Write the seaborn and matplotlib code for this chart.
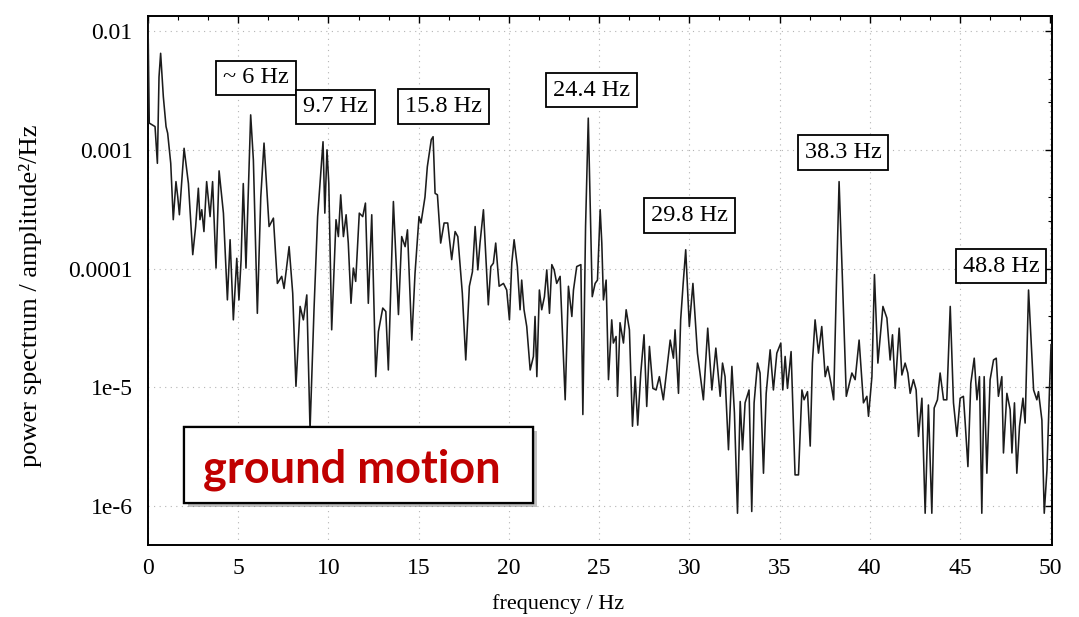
import matplotlib
matplotlib.use("Agg")
import matplotlib.pyplot as plt
import matplotlib.ticker as mticker
import matplotlib.patheffects as pe
from matplotlib.patches import Rectangle
import pandas as pd
import seaborn as sns

# Power spectrum of the ground motion (frequency in Hz, power in amplitude^2/Hz)
freq_hz = [
    0.00, 0.07, 0.39, 0.52, 0.61, 0.70, 0.85, 1.00, 1.09, 1.26,
    1.40, 1.55, 1.65, 1.74, 2.00, 2.24, 2.48, 2.64, 2.79, 2.88,
    2.98, 3.10, 3.25, 3.44, 3.58, 3.77, 3.94, 4.18, 4.40, 4.55,
    4.73, 4.92, 5.04, 5.16, 5.28, 5.43, 5.69, 5.84, 6.06, 6.25,
    6.43, 6.71, 6.95, 7.17, 7.41, 7.54, 7.82, 8.02, 8.20, 8.43,
    8.61, 8.80, 8.98, 9.20, 9.40, 9.70, 9.80, 9.92, 10.02, 10.18,
    10.42, 10.55, 10.68, 10.83, 10.98, 11.10, 11.25, 11.38, 11.51, 11.71,
    11.90, 12.05, 12.21, 12.40, 12.62, 12.77, 13.01, 13.18, 13.32, 13.60,
    13.88, 14.06, 14.25, 14.38, 14.62, 14.80, 15.02, 15.13, 15.35, 15.48,
    15.70, 15.80, 15.91, 16.04, 16.22, 16.41, 16.61, 16.83, 17.02, 17.17,
    17.42, 17.61, 17.81, 17.98, 18.13, 18.28, 18.40, 18.59, 18.86, 19.00,
    19.14, 19.27, 19.46, 19.70, 19.88, 20.03, 20.16, 20.29, 20.47, 20.62,
    20.71, 20.84, 20.99, 21.18, 21.36, 21.45, 21.55, 21.69, 21.82, 21.97,
    22.10, 22.25, 22.38, 22.51, 22.65, 22.84, 23.12, 23.30, 23.49, 23.58,
    23.76, 23.99, 24.10, 24.25, 24.40, 24.50, 24.62, 24.78, 24.91, 25.06,
    25.15, 25.24, 25.39, 25.52, 25.70, 25.79, 25.94, 26.02, 26.16, 26.35,
    26.50, 26.68, 26.85, 27.00, 27.14, 27.31, 27.49, 27.64, 27.79, 27.98,
    28.16, 28.34, 28.56, 28.75, 28.94, 29.12, 29.21, 29.40, 29.52, 29.66,
    29.80, 30.00, 30.20, 30.45, 30.78, 31.02, 31.25, 31.47, 31.71, 31.84,
    31.98, 32.17, 32.36, 32.50, 32.67, 32.82, 32.95, 33.09, 33.31, 33.46,
    33.59, 33.78, 33.92, 34.11, 34.26, 34.48, 34.66, 34.85, 35.07, 35.18,
    35.31, 35.44, 35.64, 35.86, 36.05, 36.24, 36.36, 36.55, 36.70, 36.82,
    36.97, 37.16, 37.34, 37.53, 37.67, 37.85, 38.00, 38.15, 38.30, 38.48,
    38.70, 39.01, 39.19, 39.41, 39.65, 39.84, 39.93, 40.12, 40.26, 40.45,
    40.73, 40.95, 41.13, 41.26, 41.41, 41.63, 41.78, 41.96, 42.11, 42.24,
    42.42, 42.57, 42.70, 42.89, 43.07, 43.25, 43.44, 43.57, 43.75, 43.90,
    44.09, 44.27, 44.46, 44.64, 44.83, 45.01, 45.19, 45.29, 45.44, 45.60,
    45.79, 45.94, 46.08, 46.21, 46.34, 46.49, 46.67, 46.86, 47.01, 47.13,
    47.32, 47.41, 47.60, 47.78, 47.88, 48.02, 48.15, 48.30, 48.49, 48.61,
    48.80, 49.08, 49.26, 49.35, 49.54, 49.67, 49.82, 49.96, 50.05,
]

power = [
    1.2e-2, 1.68e-3, 1.57e-3, 7.7e-4, 4.1e-3, 6.5e-3, 2.8e-3, 1.57e-3, 1.38e-3, 7.7e-4,
    2.58e-4, 5.4e-4, 4.0e-4, 2.84e-4, 1.03e-3, 5.2e-4, 1.31e-4, 2.26e-4, 4.75e-4, 2.58e-4,
    3.13e-4, 2.05e-4, 5.4e-4, 2.74e-4, 5.4e-4, 1.01e-4, 6.65e-4, 2.93e-4, 5.45e-5, 1.75e-4,
    3.7e-5, 1.22e-4, 5.45e-5, 1.19e-4, 5.2e-4, 1.01e-4, 1.97e-3, 8.2e-4, 4.2e-5, 4.0e-4,
    1.14e-3, 2.26e-4, 2.66e-4, 7.5e-5, 8.6e-5, 6.8e-5, 1.53e-4, 6.2e-5, 1.02e-5, 4.8e-5,
    3.7e-5, 6.0e-5, 4.4e-6, 4.5e-5, 2.74e-4, 1.17e-3, 2.93e-4, 1.0e-3, 5.2e-4, 3.05e-5,
    2.58e-4, 1.86e-4, 4.18e-4, 1.86e-4, 2.84e-4, 1.64e-4, 5.1e-5, 1.01e-4, 7.8e-5, 2.93e-4,
    2.74e-4, 3.56e-4, 5.1e-5, 2.84e-4, 1.23e-5, 2.95e-5, 4.65e-5, 4.35e-5, 1.4e-5, 3.67e-4,
    4.1e-5, 1.86e-4, 1.53e-4, 2.12e-4, 2.5e-5, 9.2e-5, 2.74e-4, 2.42e-4, 4.0e-4, 7.2e-4,
    1.22e-3, 1.29e-3, 4.3e-4, 4.18e-4, 1.64e-4, 2.42e-4, 2.42e-4, 1.19e-4, 2.05e-4, 1.86e-4,
    6.2e-5, 1.7e-5, 7.1e-5, 9.4e-5, 2.26e-4, 9.75e-5, 1.64e-4, 3.13e-4, 4.95e-5, 1.04e-4,
    1.11e-4, 1.64e-4, 7.1e-5, 7.5e-5, 6.6e-5, 3.7e-5, 1.11e-4, 1.75e-4, 1.04e-4, 4.5e-5,
    8.0e-5, 4.5e-5, 3.25e-5, 1.4e-5, 1.82e-5, 3.95e-5, 1.23e-5, 6.6e-5, 4.5e-5, 5.8e-5,
    9.75e-5, 4.2e-5, 1.08e-4, 9.75e-5, 7.5e-5, 8.6e-5, 7.85e-6, 7.1e-5, 3.95e-5, 6.6e-5,
    1.04e-4, 1.08e-4, 5.9e-6, 2.26e-4, 1.85e-3, 4.0e-4, 5.8e-5, 7.5e-5, 8.0e-5, 3.13e-4,
    1.64e-4, 5.45e-5, 8.0e-5, 1.16e-5, 3.7e-5, 2.36e-5, 2.68e-5, 8.4e-6, 3.5e-5, 2.36e-5,
    4.5e-5, 3.05e-5, 4.7e-6, 1.23e-5, 4.8e-6, 1.32e-5, 2.77e-5, 6.9e-6, 2.21e-5, 9.8e-6,
    9.5e-6, 1.23e-5, 7.85e-6, 1.4e-5, 2.5e-5, 1.76e-5, 3.05e-5, 8.9e-6, 3.7e-5, 7.5e-5,
    1.44e-4, 3.25e-5, 7.5e-5, 1.94e-5, 7.85e-6, 3.15e-5, 9.5e-6, 2.14e-5, 8.4e-6, 1.6e-5,
    1.23e-5, 2.98e-6, 1.5e-5, 6.1e-6, 8.7e-7, 7.6e-6, 2.98e-6, 7.4e-6, 9.5e-6, 9.0e-7,
    7.4e-6, 1.6e-5, 1.32e-5, 1.89e-6, 8.9e-6, 2.07e-5, 9.5e-6, 1.94e-5, 2.36e-5, 9.5e-6,
    1.82e-5, 9.8e-6, 2.0e-5, 1.83e-6, 1.83e-6, 9.5e-6, 7.85e-6, 9.2e-6, 3.2e-6, 1.6e-5,
    3.7e-5, 1.94e-5, 3.25e-5, 1.23e-5, 1.5e-5, 1.08e-5, 7.85e-6, 7.1e-5, 5.4e-4, 8.6e-5,
    8.4e-6, 1.32e-5, 1.16e-5, 2.5e-5, 7.4e-6, 8.4e-6, 5.7e-6, 1.23e-5, 8.9e-5, 1.6e-5,
    4.8e-5, 3.83e-5, 1.7e-5, 2.77e-5, 9.8e-6, 3.15e-5, 1.27e-5, 1.6e-5, 1.32e-5, 8.9e-6,
    1.16e-5, 9.5e-6, 3.86e-6, 8.1e-6, 8.7e-7, 7.1e-6, 8.7e-7, 6.7e-6, 7.85e-6, 1.32e-5,
    7.85e-6, 7.85e-6, 4.8e-5, 7.4e-6, 3.86e-6, 8.1e-6, 8.4e-6, 5.0e-6, 2.15e-6, 1.08e-5,
    1.76e-5, 7.85e-6, 1.23e-5, 8.7e-7, 1.23e-5, 1.89e-6, 1.16e-5, 1.7e-5, 1.76e-5, 8.4e-6,
    1.23e-5, 2.8e-6, 8.9e-6, 6.5e-6, 2.8e-6, 7.4e-6, 1.89e-6, 4.7e-6, 8.1e-6, 5.0e-6,
    6.6e-5, 9.5e-6, 7.85e-6, 9.2e-6, 5.3e-6, 8.7e-7, 2.0e-6, 9.5e-6, 2.3e-5,
]

# Peak annotations
peak_labels = ["~ 6 Hz", "9.7 Hz", "15.8 Hz", "24.4 Hz", "29.8 Hz", "38.3 Hz", "48.8 Hz"]
label_x = [5.99, 10.39, 16.38, 24.57, 30.02, 38.53, 47.29]
label_y = [4.04e-3, 2.30e-3, 2.32e-3, 3.19e-3, 2.81e-4, 9.5e-4, 1.05e-4]

# Axis ticks
x_ticks = [0, 5, 10, 15, 20, 25, 30, 35, 40, 45, 50]
y_ticks = [1e-6, 1e-5, 1e-4, 1e-3, 1e-2]
y_tick_labels = ["1e-6", "1e-5", "0.0001", "0.001", "0.01"]

sns.set_theme(style="white")
plt.rcParams["font.family"] = ["Liberation Serif", "DejaVu Serif"]

W, H = 1079, 617
fig = plt.figure(figsize=(W / 100, H / 100), dpi=100)
ax = fig.add_axes([148 / W, 1 - 545 / H, 904 / W, 529 / H])

df = pd.DataFrame({"frequency": freq_hz, "power": power})
sns.lineplot(data=df, x="frequency", y="power", ax=ax, color="#1c1c1c",
             linewidth=1.15, sort=False, zorder=3)

ax.set_yscale("log")
ax.set_xlim(0, 50.1)
ax.set_ylim(4.7e-7, 1.34e-2)

ax.xaxis.set_major_locator(mticker.FixedLocator(x_ticks))
ax.xaxis.set_minor_locator(mticker.MultipleLocator(5 / 3))
ax.set_xticklabels([str(t) for t in x_ticks])
ax.yaxis.set_major_locator(mticker.FixedLocator(y_ticks))
ax.yaxis.set_minor_locator(mticker.FixedLocator(
    [10 ** (k + f) for k in range(-7, -1) for f in (0.4, 0.6)]))
ax.yaxis.set_minor_formatter(mticker.NullFormatter())
ax.set_yticklabels(y_tick_labels)

ax.tick_params(which="both", direction="in", top=True, right=True,
               colors="black", labelsize=17)
ax.tick_params(which="major", length=5, width=1.0)
ax.tick_params(which="minor", length=3, width=0.8)
ax.tick_params(axis="y", pad=11)
ax.tick_params(axis="x", pad=9)

ax.grid(True, which="major", color="#b4b4b4", linestyle=(0, (1, 4)), linewidth=0.8)
for s in ax.spines.values():
    s.set_color("black")
    s.set_linewidth(1.4)

ax.set_xlabel("frequency / Hz", fontsize=16, va="center", color="black")
ax.xaxis.set_label_coords((558 - 148) / 904, (545 - 604) / 529)
ax.set_ylabel("power spectrum / amplitude²/Hz", fontsize=19, va="center", ha="center",
              color="black")
ax.yaxis.set_label_coords((31 - 148) / 904, (545 - 296) / 529)

for txt, lx, ly in zip(peak_labels, label_x, label_y):
    ax.text(lx, ly, txt, ha="center", va="center", fontsize=17.5, color="black",
            zorder=5,
            bbox=dict(boxstyle="square,pad=0.28", fc="white", ec="black", lw=1.3))

# Caption box with drop shadow
box = Rectangle((0.0398, 0.079), 0.386, 0.144, transform=ax.transAxes,
                facecolor="white", edgecolor="black", linewidth=1.6, zorder=6,
                path_effects=[pe.withSimplePatchShadow(offset=(3, -3), shadow_rgbFace="0.4",
                                                       alpha=0.4),
                              pe.Normal()])
ax.add_patch(box)
ax.text(0.226, 0.142, "ground motion", transform=ax.transAxes, ha="center", va="center",
        family=["Lato", "DejaVu Sans"], weight="bold", fontsize=32.5, color="#C00000",
        zorder=7)

fig.savefig("out.png", dpi=100)
